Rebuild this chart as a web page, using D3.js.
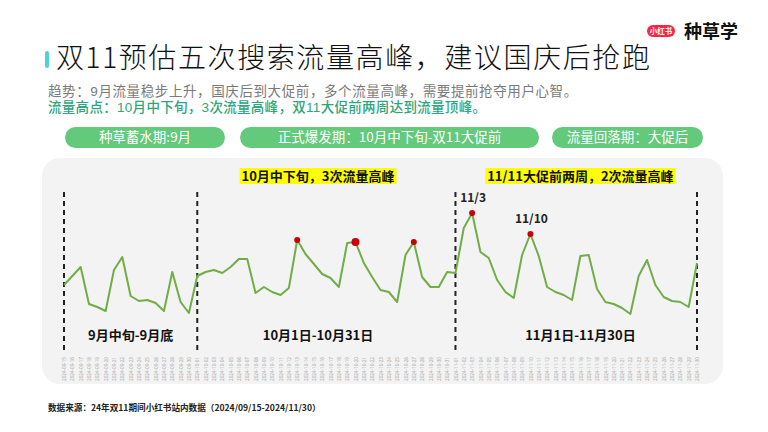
<!DOCTYPE html>
<html>
<head>
<meta charset="utf-8">
<script src="https://cdn.jsdelivr.net/npm/d3@7"></script>
<style>
  body { margin: 0; background: #fff; }
  svg { display: block; font-family: "Noto Sans CJK SC", "Noto Sans", sans-serif; }
</style>
</head>
<body>
<div id="my_dataviz"></div>
<script>
// daily search traffic index (no y axis in the original)
var startDate = "2024-09-15";
var endDate = "2024-11-30";
var sepValues = [55, 64, 73, 36, 33, 29, 70, 83, 44, 39, 40, 37, 29, 68, 38, 27];
var octValues = [64, 68, 70, 67, 73, 81, 81, 47, 53, 48, 45, 52, 100, 86, 76, 66, 62, 53, 97, 98,
                 77, 63, 50, 48, 38, 85, 98, 63, 53, 53, 68];
var novValues = [67, 112, 127, 88, 82, 60, 48, 42, 85, 106, 84, 53, 48, 45, 40, 84, 85, 51, 38, 36,
                 32, 26, 64, 80, 55, 43, 39, 38, 33, 77];

var peakDates = ["2024-10-13", "2024-10-20", "2024-10-27", "2024-11-03", "2024-11-10"];
var peakLabels = ["", "", "", "11/3", "11/10"];
var boundaryDates = ["2024-09-15", "2024-10-01", "2024-11-01", "2024-11-30"];

var periodLabels = ["9月中旬-9月底", "10月1日-10月31日", "11月1日-11月30日"];
var periodAnchors = ["2024-09-23 00", "2024-10-15 12", "2024-11-16 00"];
var noteLabels = ["10月中下旬，3次流量高峰", "11/11大促前两周，2次流量高峰"];
var noteAnchors = ["2024-10-15 12", "2024-11-16 00"];
var phaseLabels = ["种草蓄水期:9月", "正式爆发期：10月中下旬-双11大促前", "流量回落期：大促后"];

var title = "双11预估五次搜索流量高峰，建议国庆后抢跑";
var subtitle1 = "趋势：9月流量稳步上升，国庆后到大促前，多个流量高峰，需要提前抢夺用户心智。";
var subtitle2 = "流量高点：10月中下旬，3次流量高峰，双11大促前两周达到流量顶峰。";
var source = "数据来源：24年双11期间小红书站内数据（2024/09/15-2024/11/30）";

var parseDay = d3.timeParse("%Y-%m-%d");
var parseHour = d3.timeParse("%Y-%m-%d %H");
var values = sepValues.concat(octValues, novValues);
var days = d3.timeDay.range(parseDay(startDate), d3.timeDay.offset(parseDay(endDate), 1));
var data = days.map(function(d, i) { return { date: d, value: values[i] }; });

var width = 768, height = 432;

var svg = d3.select("#my_dataviz")
    .append("svg")
    .attr("width", width)
    .attr("height", height);

svg.append("rect").attr("width", width).attr("height", height).attr("fill", "#fff");

// header
svg.append("rect")
    .attr("x", 45).attr("y", 51).attr("width", 4).attr("height", 17).attr("rx", 2)
    .attr("fill", "#4fd3d9");
svg.append("text")
    .attr("x", 56).attr("y", 68)
    .attr("font-size", 28)
    .attr("font-weight", 300)
    .attr("letter-spacing", 1.6)
    .attr("fill", "#111")
    .text(title);
// subtitles sit very close together, as in the original slide
svg.append("text")
    .attr("x", 48).attr("y", 96)
    .attr("font-family", "'Liberation Sans', 'Noto Sans CJK SC', sans-serif")
    .attr("font-size", 13.5)
    .attr("letter-spacing", 0.6)
    .attr("fill", "#7a7a7a")
    .text(subtitle1);
svg.append("text")
    .attr("x", 48).attr("y", 112)
    .attr("font-family", "'Liberation Sans', 'Noto Sans CJK SC', sans-serif")
    .attr("font-size", 13.5)
    .attr("letter-spacing", 0.3)
    .attr("font-weight", 500)
    .attr("fill", "#2ea67a")
    .text(subtitle2);

// logo
svg.append("rect")
    .attr("x", 647).attr("y", 25).attr("width", 28).attr("height", 12).attr("rx", 6)
    .attr("fill", "#ff2442");
svg.append("text")
    .attr("x", 661).attr("y", 31).attr("dy", "0.36em")
    .attr("text-anchor", "middle")
    .attr("font-size", 7.5).attr("font-weight", 700)
    .attr("fill", "#fff")
    .text("小红书");
svg.append("text")
    .attr("x", 684).attr("y", 38)
    .attr("font-size", 18).attr("font-weight", 700)
    .attr("fill", "#111")
    .text("种草学");

// phase pills
var pillBoxes = [[65, 225], [240, 539], [552, 703]];
svg.selectAll(".pill").data(phaseLabels).enter()
    .append("rect")
    .attr("class", "pill")
    .attr("x", function(d, i) { return pillBoxes[i][0]; })
    .attr("width", function(d, i) { return pillBoxes[i][1] - pillBoxes[i][0]; })
    .attr("y", 127).attr("height", 21).attr("rx", 10.5)
    .attr("fill", "#62ca7a");
svg.selectAll(".pillText").data(phaseLabels).enter()
    .append("text")
    .attr("class", "pillText")
    .attr("x", function(d, i) { return (pillBoxes[i][0] + pillBoxes[i][1]) / 2; })
    .attr("y", 137.5).attr("dy", "0.36em")
    .attr("text-anchor", "middle")
    .attr("font-size", 13.5)
    .attr("fill", "#fff")
    .text(function(d) { return d; });

// chart panel
svg.append("rect")
    .attr("x", 42).attr("y", 158).attr("width", 681).attr("height", 226).attr("rx", 18)
    .attr("fill", "#f3f3f3");

var x = d3.scaleTime()
    .domain([parseDay(startDate), parseDay(endDate)])
    .range([64, 697]);
var y = d3.scaleLinear()
    .domain([0, 140])
    .range([340, 200]);

// date axis
var xAxis = svg.append("g")
    .attr("transform", "translate(0,355)")
    .call(d3.axisBottom(x)
        .ticks(d3.timeDay.every(1))
        .tickFormat(d3.timeFormat("%Y-%m-%d"))
        .tickSize(0));
xAxis.select(".domain").remove();
xAxis.selectAll("text")
    .attr("x", -2).attr("y", 0).attr("dy", "0.35em")
    .attr("transform", "rotate(-90)")
    .attr("text-anchor", "end")
    .attr("font-family", "Noto Sans, sans-serif")
    .attr("font-size", 4.6)
    .attr("fill", "#a8a8a8");

// period boundaries
svg.selectAll(".bound").data(boundaryDates).enter()
    .append("line")
    .attr("class", "bound")
    .attr("x1", function(d) { return x(parseDay(d)); })
    .attr("x2", function(d) { return x(parseDay(d)); })
    .attr("y1", 192).attr("y2", 352)
    .attr("stroke", "#222")
    .attr("stroke-width", 2)
    .attr("stroke-dasharray", "5,4");

// traffic line
svg.append("path")
    .datum(data)
    .attr("fill", "none")
    .attr("stroke", "#70ad47")
    .attr("stroke-width", 2)
    .attr("stroke-linejoin", "round")
    .attr("d", d3.line()
        .x(function(d) { return x(d.date); })
        .y(function(d) { return y(d.value); }));

// peaks
var peaks = data.filter(function(d) {
    return peakDates.indexOf(d3.timeFormat("%Y-%m-%d")(d.date)) >= 0;
});
svg.selectAll(".peak").data(peaks).enter()
    .append("circle")
    .attr("class", "peak")
    .attr("cx", function(d) { return x(d.date); })
    .attr("cy", function(d) { return y(d.value); })
    .attr("r", function(d, i) { return i == 1 ? 4 : 3; })
    .attr("fill", "#c8000a");
svg.selectAll(".peakLabel").data(peaks).enter()
    .append("text")
    .attr("class", "peakLabel")
    .attr("x", function(d) { return x(d.date) + 1; })
    .attr("y", function(d) { return y(d.value) - 11; })
    .attr("text-anchor", "middle")
    .attr("font-size", 12).attr("font-weight", 700)
    .attr("fill", "#222")
    .text(function(d, i) { return peakLabels[i]; });

// highlighted notes
noteLabels.forEach(function(t, i) {
    var cx = x(parseHour(noteAnchors[i]));
    var txt = svg.append("text")
        .attr("x", cx).attr("y", 176).attr("dy", "0.36em")
        .attr("text-anchor", "middle")
        .attr("font-size", 13).attr("font-weight", 700)
        .attr("fill", "#111")
        .text(t);
    var w = txt.node().getComputedTextLength();
    svg.insert("rect", function() { return txt.node(); })
        .attr("x", cx - w / 2 - 2).attr("y", 168)
        .attr("width", w + 4).attr("height", 16)
        .attr("fill", "#ffff00");
});

// period captions
svg.selectAll(".period").data(periodLabels).enter()
    .append("text")
    .attr("class", "period")
    .attr("x", function(d, i) { return x(parseHour(periodAnchors[i])); })
    .attr("y", 335).attr("dy", "0.36em")
    .attr("text-anchor", "middle")
    .attr("font-size", 13).attr("font-weight", 700)
    .attr("fill", "#111")
    .text(function(d) { return d; });

// footer
svg.append("text")
    .attr("x", 48).attr("y", 411)
    .attr("font-size", 8.6).attr("font-weight", 700)
    .attr("fill", "#222")
    .text(source);
</script>
</body>
</html>
